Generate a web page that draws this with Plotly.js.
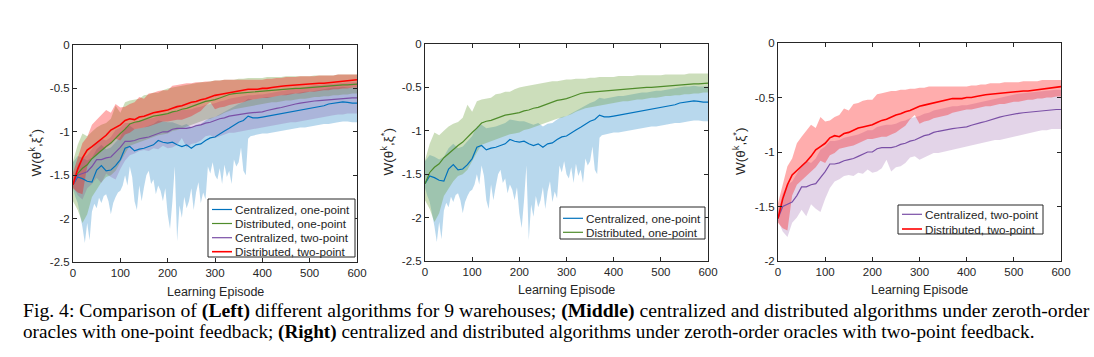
<!DOCTYPE html>
<html>
<head>
<meta charset="utf-8">
<script src="https://cdn.plot.ly/plotly-3.0.1.min.js"></script>
<style>html,body{margin:0;padding:0;background:#fff;}#chart{width:1094px;height:357px;}</style>
</head>
<body>
<div id="chart"></div>
<script>
// ---------- data ----------
const episodes = [0,10,20,30,40,50,60,70,80,90,100,110,120,130,140,150,160,170,180,190,200,210,220,230,240,250,260,270,280,290,300,310,320,330,340,350,360,370,380,390,400,410,420,430,440,450,460,470,480,490,500,510,520,530,540,550,560,570,580,590,600];

// Centralized, one-point (blue)
const cenOneMean = [-1.61,-1.52,-1.54,-1.57,-1.58,-1.44,-1.39,-1.45,-1.44,-1.39,-1.32,-1.19,-1.17,-1.22,-1.20,-1.19,-1.17,-1.15,-1.10,-1.12,-1.13,-1.12,-1.15,-1.17,-1.15,-1.19,-1.15,-1.14,-1.10,-1.07,-1.06,-1.02,-0.99,-0.96,-0.92,-0.89,-0.87,-0.82,-0.84,-0.84,-0.83,-0.82,-0.81,-0.80,-0.79,-0.78,-0.77,-0.76,-0.75,-0.74,-0.73,-0.72,-0.71,-0.70,-0.68,-0.67,-0.66,-0.655,-0.66,-0.67,-0.67];
const cenOneUpper = [-1.35,-1.28,-1.30,-1.33,-1.30,-1.20,-1.15,-1.20,-1.18,-1.12,-1.06,-0.95,-0.93,-0.97,-0.96,-0.95,-0.93,-0.91,-0.87,-0.88,-0.89,-0.89,-0.91,-0.93,-0.91,-0.95,-0.92,-0.91,-0.87,-0.84,-0.83,-0.80,-0.77,-0.74,-0.71,-0.68,-0.66,-0.62,-0.63,-0.62,-0.61,-0.60,-0.60,-0.59,-0.58,-0.57,-0.56,-0.56,-0.55,-0.54,-0.54,-0.53,-0.52,-0.51,-0.50,-0.49,-0.49,-0.48,-0.49,-0.49,-0.49];
const cenOneLowerEp = [0,5,10,15,20,25,30,35,40,45,50,55,60,65,70,75,80,85,90,95,100,105,110,115,120,125,130,135,140,145,150,155,160,165,170,175,180,185,190,195,200,205,210,215,220,225,230,235,240,245,250,255,260,265,270,275,280,285,290,295,300,305,310,315,320,325,330,335,340,345,350,355,360,365,370,375,380,390,400,410,420,430,440,450,460,470,480,490,500,510,520,530,540,550,560,570,580,590,600];
const cenOneLower = [-1.66,-1.75,-1.82,-1.95,-2.10,-2.28,-2.05,-2.25,-1.92,-1.83,-1.88,-1.76,-1.82,-1.74,-1.72,-1.80,-1.95,-1.82,-1.75,-1.70,-1.68,-1.62,-1.50,-1.62,-1.40,-1.52,-1.80,-1.90,-1.62,-1.80,-1.64,-1.50,-1.45,-1.60,-1.55,-1.72,-1.62,-1.68,-1.80,-1.65,-1.95,-2.12,-1.80,-1.40,-2.26,-1.85,-1.99,-1.75,-1.88,-1.80,-1.65,-1.90,-1.70,-1.58,-1.82,-1.70,-1.78,-1.40,-1.48,-1.35,-1.50,-1.55,-1.42,-1.60,-1.38,-1.52,-1.45,-1.60,-1.32,-1.40,-1.35,-1.18,-1.45,-1.50,-1.08,-1.05,-1.04,-1.03,-1.02,-1.02,-1.01,-1.00,-0.99,-0.98,-0.97,-0.96,-0.95,-0.95,-0.94,-0.93,-0.92,-0.91,-0.91,-0.90,-0.89,-0.88,-0.88,-0.89,-0.89];

// Distributed, one-point (green)
const disOneMean = [-1.61,-1.48,-1.42,-1.38,-1.31,-1.26,-1.21,-1.17,-1.13,-1.07,-1.02,-0.97,-0.91,-0.89,-0.88,-0.86,-0.84,-0.82,-0.81,-0.80,-0.79,-0.77,-0.76,-0.74,-0.73,-0.71,-0.69,-0.67,-0.65,-0.64,-0.63,-0.61,-0.59,-0.57,-0.56,-0.555,-0.55,-0.55,-0.54,-0.54,-0.53,-0.53,-0.52,-0.52,-0.515,-0.51,-0.505,-0.50,-0.50,-0.495,-0.49,-0.485,-0.48,-0.48,-0.475,-0.47,-0.465,-0.46,-0.46,-0.455,-0.45];
const disOneUpper = [-1.34,-1.15,-1.02,-1.05,-1.00,-0.95,-0.92,-0.90,-0.85,-0.70,-0.78,-0.66,-0.64,-0.63,-0.62,-0.58,-0.57,-0.55,-0.55,-0.52,-0.50,-0.49,-0.48,-0.47,-0.46,-0.45,-0.44,-0.43,-0.43,-0.42,-0.41,-0.41,-0.40,-0.40,-0.40,-0.39,-0.39,-0.38,-0.38,-0.38,-0.38,-0.37,-0.37,-0.37,-0.37,-0.36,-0.36,-0.36,-0.36,-0.36,-0.36,-0.35,-0.35,-0.35,-0.35,-0.35,-0.34,-0.34,-0.34,-0.34,-0.34];
const disOneLower = [-1.80,-1.90,-2.05,-1.95,-1.75,-1.66,-1.58,-1.52,-1.50,-1.45,-1.35,-1.25,-1.16,-1.14,-1.12,-1.10,-1.08,-1.06,-1.04,-1.03,-1.02,-0.99,-0.98,-0.96,-0.94,-0.92,-0.90,-0.88,-0.86,-0.85,-0.83,-0.81,-0.78,-0.76,-0.74,-0.73,-0.72,-0.71,-0.70,-0.69,-0.68,-0.67,-0.66,-0.66,-0.65,-0.64,-0.64,-0.63,-0.62,-0.62,-0.61,-0.60,-0.60,-0.59,-0.59,-0.58,-0.58,-0.57,-0.57,-0.56,-0.56];

// Centralized, two-point (purple)
const cenTwoMean = [-1.61,-1.50,-1.48,-1.46,-1.40,-1.32,-1.32,-1.30,-1.29,-1.24,-1.18,-1.11,-1.11,-1.10,-1.08,-1.07,-1.06,-1.04,-1.02,-1.00,-1.00,-0.97,-0.96,-0.96,-0.96,-0.95,-0.93,-0.92,-0.90,-0.89,-0.87,-0.85,-0.84,-0.82,-0.81,-0.80,-0.79,-0.785,-0.78,-0.775,-0.77,-0.755,-0.74,-0.73,-0.72,-0.705,-0.69,-0.68,-0.67,-0.66,-0.655,-0.645,-0.64,-0.635,-0.63,-0.625,-0.62,-0.615,-0.61,-0.61,-0.61];
const cenTwoUpper = [-1.55,-1.38,-1.30,-1.27,-1.20,-1.12,-1.08,-1.10,-1.06,-0.98,-0.95,-0.90,-0.90,-0.89,-0.87,-0.86,-0.85,-0.84,-0.82,-0.80,-0.80,-0.77,-0.76,-0.75,-0.75,-0.74,-0.72,-0.71,-0.69,-0.68,-0.67,-0.65,-0.64,-0.62,-0.61,-0.60,-0.59,-0.58,-0.58,-0.57,-0.57,-0.56,-0.55,-0.54,-0.53,-0.52,-0.51,-0.50,-0.49,-0.48,-0.47,-0.465,-0.46,-0.455,-0.45,-0.445,-0.44,-0.435,-0.43,-0.43,-0.43];
const cenTwoLower = [-1.63,-1.73,-1.78,-1.65,-1.60,-1.53,-1.59,-1.48,-1.52,-1.55,-1.43,-1.33,-1.27,-1.25,-1.22,-1.21,-1.22,-1.19,-1.20,-1.16,-1.19,-1.18,-1.15,-1.07,-1.18,-1.14,-1.13,-1.10,-1.05,-1.04,-1.07,-1.05,-1.03,-1.01,-1.01,-1.00,-0.99,-0.98,-0.97,-0.96,-0.95,-0.94,-0.93,-0.92,-0.91,-0.90,-0.89,-0.89,-0.88,-0.87,-0.86,-0.85,-0.84,-0.83,-0.82,-0.81,-0.80,-0.80,-0.79,-0.79,-0.79];

// Distributed, two-point (red)
const disTwoMean = [-1.61,-1.43,-1.30,-1.21,-1.17,-1.13,-1.09,-1.04,-0.98,-0.95,-0.92,-0.87,-0.85,-0.86,-0.83,-0.82,-0.80,-0.78,-0.77,-0.76,-0.75,-0.73,-0.71,-0.70,-0.68,-0.66,-0.65,-0.63,-0.62,-0.60,-0.58,-0.57,-0.56,-0.55,-0.54,-0.53,-0.52,-0.51,-0.51,-0.51,-0.50,-0.50,-0.49,-0.48,-0.475,-0.47,-0.465,-0.46,-0.455,-0.45,-0.45,-0.445,-0.44,-0.44,-0.435,-0.43,-0.425,-0.42,-0.415,-0.41,-0.40];
const disTwoUpper = [-1.47,-1.30,-1.13,-1.06,-0.92,-0.86,-0.80,-0.75,-0.78,-0.68,-0.72,-0.71,-0.68,-0.66,-0.60,-0.62,-0.56,-0.55,-0.53,-0.52,-0.52,-0.47,-0.46,-0.45,-0.44,-0.44,-0.43,-0.43,-0.42,-0.42,-0.41,-0.41,-0.40,-0.40,-0.40,-0.40,-0.40,-0.40,-0.40,-0.40,-0.40,-0.39,-0.39,-0.38,-0.38,-0.37,-0.37,-0.37,-0.36,-0.36,-0.36,-0.36,-0.35,-0.35,-0.35,-0.35,-0.34,-0.34,-0.34,-0.34,-0.34];
const disTwoLower = [-1.65,-1.70,-1.72,-1.40,-1.30,-1.26,-1.22,-1.18,-1.14,-1.08,-1.10,-1.03,-1.01,-0.97,-0.96,-0.95,-0.94,-0.92,-0.90,-0.88,-0.88,-0.87,-0.86,-0.86,-0.84,-0.82,-0.79,-0.76,-0.70,-0.66,-0.74,-0.72,-0.71,-0.69,-0.68,-0.67,-0.66,-0.64,-0.63,-0.62,-0.61,-0.61,-0.60,-0.59,-0.58,-0.58,-0.57,-0.56,-0.56,-0.55,-0.54,-0.54,-0.53,-0.52,-0.52,-0.51,-0.51,-0.50,-0.50,-0.49,-0.49];

const seriesNames = ["Centralized, one-point","Distributed, one-point","Centralized, two-point","Distributed, two-point"];
const xTickVals = [0,100,200,300,400,500,600];
const xTickText = ["0","100","200","300","400","500","600"];
const yTickVals5 = [-2.5,-2,-1.5,-1,-0.5,0];
const yTickText5 = ["-2.5","-2","-1.5","-1","-0.5","0"];
const yTickVals4 = [-2,-1.5,-1,-0.5,0];
const yTickText4 = ["-2","-1.5","-1","-0.5","0"];
const xTitle = "Learning Episode";
const yTitle = "W(θ<sup>k</sup>,ξ<sup>*</sup>)";
const captionLine1 = "Fig. 4: Comparison of <b>(Left)</b> different algorithms for 9 warehouses; <b>(Middle)</b> centralized and distributed algorithms under zeroth-order";
const captionLine2 = "oracles with one-point feedback; <b>(Right)</b> centralized and distributed algorithms under zeroth-order oracles with two-point feedback.";

// ---------- styling ----------
const COL = {
  blue:   {line:"#0072BD", fill:"rgba(0,114,189,0.28)", w:1.2},
  green:  {line:"#4F8C2B", fill:"rgba(110,160,60,0.35)", w:1.2},
  purple: {line:"#7A4FA6", fill:"rgba(126,60,150,0.22)", w:1.2},
  red:    {line:"#FF0000", fill:"rgba(255,0,0,0.32)", w:1.6}
};
const SERIES_COL = [COL.blue, COL.green, COL.purple, COL.red];
const FONT = "Liberation Sans, Arial, sans-serif";
const SERIF = "Liberation Serif, Times New Roman, serif";
const INK = "#262626";
const W = 1094, H = 357;
const px = v => v / W;
const py = v => 1 - v / H;

function band(xU, up, xL, lo, c, ax) {
  return {
    x: xU.concat(xL.slice().reverse()),
    y: up.concat(lo.slice().reverse()),
    xaxis: ax[0], yaxis: ax[1],
    type: "scatter", mode: "lines", fill: "toself",
    fillcolor: c.fill, line: {width: 0, color: c.fill},
    hoverinfo: "skip", showlegend: false
  };
}
function line(x, y, c, name, ax) {
  return {
    x: x, y: y, xaxis: ax[0], yaxis: ax[1], name: name,
    type: "scatter", mode: "lines", line: {color: c.line, width: c.w},
    showlegend: false
  };
}

const A1 = ["x","y"], A2 = ["x2","y2"], A3 = ["x3","y3"];
const traces = [
  band(episodes, cenOneUpper, cenOneLowerEp, cenOneLower, COL.blue, A1),
  band(episodes, disOneUpper, episodes, disOneLower, COL.green, A1),
  band(episodes, cenTwoUpper, episodes, cenTwoLower, COL.purple, A1),
  band(episodes, disTwoUpper, episodes, disTwoLower, COL.red, A1),
  line(episodes, cenOneMean, COL.blue, seriesNames[0], A1),
  line(episodes, disOneMean, COL.green, seriesNames[1], A1),
  line(episodes, cenTwoMean, COL.purple, seriesNames[2], A1),
  line(episodes, disTwoMean, COL.red, seriesNames[3], A1),
  band(episodes, cenOneUpper, cenOneLowerEp, cenOneLower, COL.blue, A2),
  band(episodes, disOneUpper, episodes, disOneLower, COL.green, A2),
  line(episodes, cenOneMean, COL.blue, seriesNames[0], A2),
  line(episodes, disOneMean, COL.green, seriesNames[1], A2),
  band(episodes, cenTwoUpper, episodes, cenTwoLower, COL.purple, A3),
  band(episodes, disTwoUpper, episodes, disTwoLower, COL.red, A3),
  line(episodes, cenTwoMean, COL.purple, seriesNames[2], A3),
  line(episodes, disTwoMean, COL.red, seriesNames[3], A3)
];

function xAxis(a, b, anchor) {
  return {
    domain: [px(a), px(b)], anchor: anchor, range: [0, 600],
    tickmode: "array", tickvals: xTickVals, ticktext: xTickText,
    ticks: "inside", ticklen: 4, tickcolor: INK, tickwidth: 1,
    showline: true, linecolor: INK, linewidth: 1, mirror: "ticks",
    showgrid: false, zeroline: false, automargin: false,
    tickfont: {family: FONT, size: 11.5, color: INK}
  };
}
function yAxis(top, bot, anchor, rng, tv, tt) {
  return {
    domain: [py(bot), py(top)], anchor: anchor, range: rng,
    tickmode: "array", tickvals: tv, ticktext: tt,
    ticks: "inside", ticklen: 4, tickcolor: INK, tickwidth: 1,
    showline: true, linecolor: INK, linewidth: 1, mirror: "ticks",
    showgrid: false, zeroline: false, automargin: false,
    tickfont: {family: FONT, size: 11.5, color: INK}
  };
}

const panels = [
  {l: 73, r: 357, t: 45, b: 262, xTitleY: 292, yTitleX: 35,
   legend: {l: 208, r: 355, t: 199, b: 257, rows: [209.5, 223.5, 237.7, 251.7], lineX: [212, 232], textX: 233, series: [0,1,2,3]}},
  {l: 425, r: 708, t: 44, b: 261, xTitleY: 290, yTitleX: 387,
   legend: {l: 560, r: 705, t: 207, b: 239, rows: [218.3, 232.3], lineX: [563, 583], textX: 584, series: [0,1]}},
  {l: 778, r: 1061, t: 43, b: 261, xTitleY: 290, yTitleX: 739,
   legend: {l: 898, r: 1043, t: 205, b: 234, rows: [214.3, 229], lineX: [902, 922], textX: 923, series: [2,3]}}
];

const shapes = [];
const annotations = [];
panels.forEach(p => {
  annotations.push({text: xTitle, xref: "paper", yref: "paper",
    x: px((p.l + p.r) / 2), y: py(p.xTitleY), xanchor: "center", yanchor: "middle",
    showarrow: false, font: {family: FONT, size: 12.5, color: INK}});
  annotations.push({text: yTitle, xref: "paper", yref: "paper", textangle: -90,
    x: px(p.yTitleX), y: py((p.t + p.b) / 2), xanchor: "center", yanchor: "middle",
    showarrow: false, font: {family: FONT, size: 13.5, color: INK}});
  const L = p.legend;
  shapes.push({type: "rect", xref: "paper", yref: "paper",
    x0: px(L.l), x1: px(L.r), y0: py(L.b), y1: py(L.t),
    line: {color: INK, width: 1}, fillcolor: "#ffffff", layer: "above"});
  L.series.forEach((s, i) => {
    const c = SERIES_COL[s];
    shapes.push({type: "line", xref: "paper", yref: "paper",
      x0: px(L.lineX[0]), x1: px(L.lineX[1]), y0: py(L.rows[i]), y1: py(L.rows[i]),
      line: {color: c.line, width: c.w}, layer: "above"});
    annotations.push({text: seriesNames[s], xref: "paper", yref: "paper",
      x: px(L.textX), y: py(L.rows[i]), xanchor: "left", yanchor: "middle",
      showarrow: false, font: {family: FONT, size: 11.7, color: INK}});
  });
});

annotations.push({text: captionLine1, xref: "paper", yref: "paper", x: px(21), y: py(310),
  xanchor: "left", yanchor: "middle", showarrow: false,
  font: {family: SERIF, size: 19.7, color: "#000"}});
annotations.push({text: captionLine2, xref: "paper", yref: "paper", x: px(21), y: py(332),
  xanchor: "left", yanchor: "middle", showarrow: false,
  font: {family: SERIF, size: 19.15, color: "#000"}});

const layout = {
  width: W, height: H,
  margin: {l: 0, r: 0, t: 0, b: 0},
  paper_bgcolor: "#ffffff", plot_bgcolor: "#ffffff",
  font: {family: FONT, color: INK},
  showlegend: false,
  xaxis:  xAxis(73, 357, "y"),
  yaxis:  yAxis(45, 262, "x", [-2.5, 0], yTickVals5, yTickText5),
  xaxis2: xAxis(425, 708, "y2"),
  yaxis2: yAxis(44, 261, "x2", [-2.5, 0], yTickVals5, yTickText5),
  xaxis3: xAxis(778, 1061, "y3"),
  yaxis3: yAxis(43, 261, "x3", [-2, 0], yTickVals4, yTickText4),
  shapes: shapes,
  annotations: annotations
};

Plotly.newPlot("chart", traces, layout, {displayModeBar: false, staticPlot: true});
</script>
</body>
</html>
